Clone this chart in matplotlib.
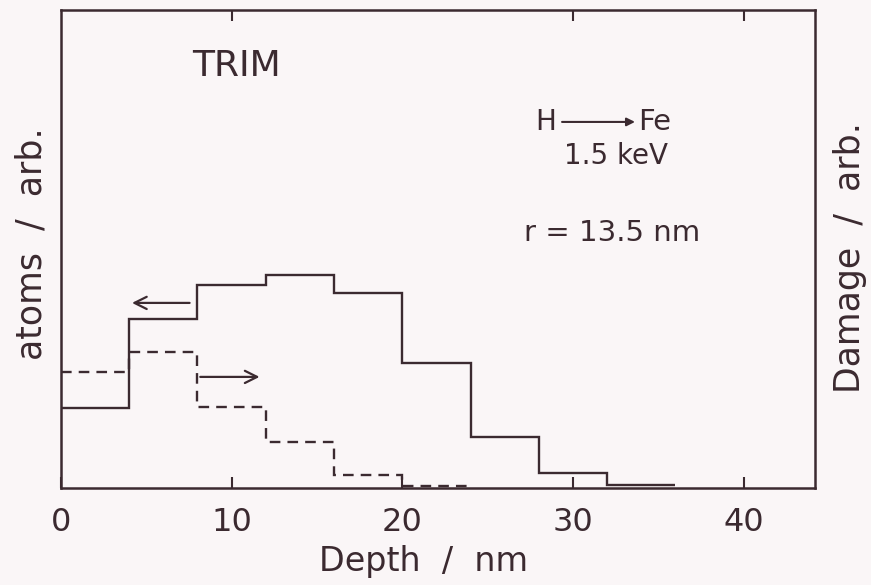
import numpy as np
import matplotlib
matplotlib.use("Agg")
import matplotlib.pyplot as plt

# Depth bins (nm) and TRIM histogram heights (arbitrary units)
edges = np.arange(0, 40, 4)          # 0, 4, ..., 36
atoms = [80, 169, 203, 213, 195, 125, 51, 15, 3]   # solid: implanted atoms
damage = [116, 136, 81, 46, 13, 2]                 # dashed: damage
damage_edges = edges[:len(damage) + 1]

ink = "#3b2a30"
bg = "#faf6f7"

plt.rcParams["font.family"] = ["DejaVu Sans"]

fig = plt.figure(figsize=(8.71, 5.85), dpi=100, facecolor=bg)
ax = fig.add_axes([0.070, 0.166, 0.866, 0.817])
ax.set_facecolor(bg)

# histograms
ax.stairs(atoms, edges, baseline=None, color=ink, lw=1.7)
ax.stairs(damage, damage_edges, baseline=None, color=ink, lw=1.7,
          linestyle=(0, (4.5, 3)))

# arrows showing which axis each curve belongs to
ax.annotate("", xy=(4.0, 185), xytext=(7.7, 185),
            arrowprops=dict(arrowstyle="->", lw=1.6, color=ink, mutation_scale=22))
ax.annotate("", xy=(11.8, 111), xytext=(8.0, 111),
            arrowprops=dict(arrowstyle="->", lw=1.6, color=ink, mutation_scale=22))

# annotations
ax.text(10.26, 422, "TRIM", fontsize=26, color=ink, ha="center", va="center")
ax.text(28.4, 366, "H", fontsize=20, color=ink, ha="center", va="center")
ax.annotate("", xy=(33.8, 366), xytext=(29.2, 366),
            arrowprops=dict(arrowstyle="-|>", lw=1.5, color=ink, mutation_scale=12))
ax.text(33.8, 366, "Fe", fontsize=21, color=ink, ha="left", va="center")
ax.text(32.5, 332, "1.5 keV", fontsize=20, color=ink, ha="center", va="center")
ax.text(32.3, 255, "r = 13.5 nm", fontsize=21, color=ink, ha="center", va="center")

ax.set_xlim(0, 44.2)
ax.set_ylim(0, 478)

ax.set_xticks([0, 10, 20, 30, 40])
ax.set_yticks([])
ax.tick_params(axis="x", direction="in", length=8, width=1.5, color=ink,
               labelcolor=ink, labelsize=23, pad=14)
top = ax.secondary_xaxis("top")
top.set_xticks([10, 30, 40])
top.tick_params(direction="in", length=8, width=1.5, color=ink, labeltop=False)
top.spines["top"].set_visible(False)

for s in ax.spines.values():
    s.set_color(ink)
    s.set_linewidth(1.8)

ax.set_xlabel("Depth  /  nm", fontsize=24, color=ink)
ax.xaxis.set_label_coords(0.481, -0.12)
ax.set_ylabel("atoms  /  arb.", fontsize=25, color=ink)
ax.yaxis.set_label_coords(-0.017, 0.51)
fig.text(850 / 871, 1 - 258 / 585, "Damage  /  arb.", rotation=90, fontsize=25,
         color=ink, ha="center", va="center")

fig.savefig("out.png", dpi=100, facecolor=bg)
